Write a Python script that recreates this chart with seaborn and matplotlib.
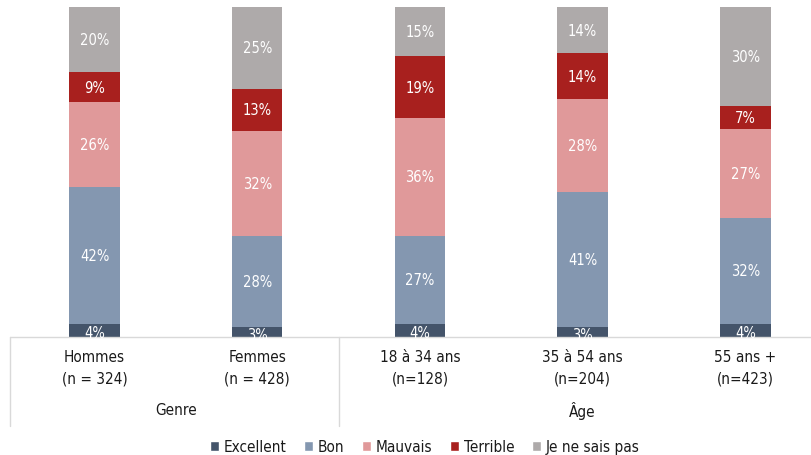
import numpy as np
import pandas as pd
import seaborn as sns
import matplotlib.pyplot as plt
import matplotlib.transforms as mtransforms
from matplotlib.patches import Patch

categories = ['Hommes\n(n = 324)', 'Femmes\n(n = 428)', '18 à 34 ans\n(n=128)',
              '35 à 54 ans\n(n=204)', '55 ans +\n(n=423)']
groups = ['Genre', 'Âge']
series = ['Excellent', 'Bon', 'Mauvais', 'Terrible', 'Je ne sais pas']
excellent = [4, 3, 4, 3, 4]
bon = [42, 28, 27, 41, 32]
mauvais = [26, 32, 36, 28, 27]
terrible = [9, 13, 19, 14, 7]
nsp = [20, 25, 15, 14, 30]
colors = ['#44546a', '#8497b0', '#e0999a', '#a8201e', '#aeaaaa']

sns.set_style('white')
plt.rcParams['font.family'] = ['DejaVu Sans']
plt.rcParams['font.stretch'] = 'condensed'

vals = np.array([excellent, bon, mauvais, terrible, nsp], dtype=float)
totals = vals.sum(axis=0)
cum = np.cumsum(vals, axis=0) / totals * 100          # 100 % empilé
df = pd.DataFrame(cum.T, columns=series)
df['cat'] = categories

fig = plt.figure(figsize=(8.12, 4.56), dpi=100)
ax = fig.add_axes([10 / 812, 1 - 338 / 456, 1 - 10 / 812, 330 / 456])

# on dessine du haut vers le bas pour empiler les barres
for k in range(len(series) - 1, -1, -1):
    sns.barplot(data=df, x='cat', y=series[k], order=categories, color=colors[k],
                width=0.31, linewidth=0, saturation=1, ax=ax)

# étiquettes des segments
for i in range(len(categories)):
    for k in range(len(series)):
        lo = cum[k - 1, i] if k > 0 else 0
        ax.text(i, (lo + cum[k, i]) / 2 - (0.6 if k == 0 else 0), f'{int(vals[k, i])}%',
                ha='center', va='center', color='white', fontsize=10.5)

ax.set_xlim(-0.52, 4.41)
ax.set_ylim(0, 100)
ax.set_xlabel('')
ax.set_ylabel('')
ax.set_yticks([])
ax.set_xticks([])
sns.despine(ax=ax, left=True, right=True, top=True, bottom=True)

trans = mtransforms.blended_transform_factory(ax.transData, ax.transAxes)
line_kw = dict(color='#d9d9d9', lw=1, clip_on=False, transform=trans)
ax.plot([-0.52, 4.41], [0, 0], **line_kw)
ax.plot([-0.52, -0.52], [0, -0.27], **line_kw)
ax.plot([1.5, 1.5], [0, -0.27], **line_kw)

for i, c in enumerate(categories):
    ax.text(i, -0.091, c, ha='center', va='center', fontsize=11,
            linespacing=1.55, color='#1a1a1a', transform=trans)
ax.text(0.5, -0.221, groups[0], ha='center', va='center', fontsize=11,
        color='#1a1a1a', transform=trans)
ax.text(3, -0.221, groups[1], ha='center', va='center', fontsize=11,
        color='#1a1a1a', transform=trans)

handles = [Patch(facecolor=c, label=s) for c, s in zip(colors, series)]
fig.legend(handles=handles, loc='center', bbox_to_anchor=(0.523, 1 - 448 / 456),
           ncol=5, frameon=False, fontsize=11, handlelength=0.6, handleheight=0.6,
           handletextpad=0.3, columnspacing=1.15, labelcolor='#1a1a1a',
           borderpad=0.05)

fig.savefig('out.png', dpi=100)
